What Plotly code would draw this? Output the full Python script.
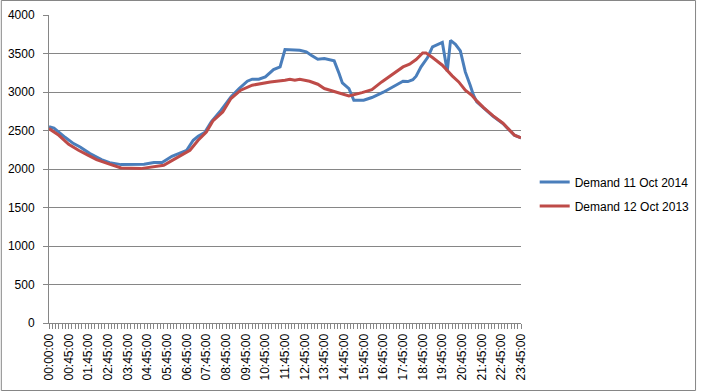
import plotly.graph_objects as go

# Category slots (Excel category axis; label every 6 slots)
tick_slots = [0, 6, 12, 18, 24, 30, 36, 42, 48, 54, 60, 66, 72, 78, 84, 90, 96, 102, 108, 114, 120, 126, 132, 138, 144]
tick_labels = ["00:00:00", "00:45:00", "01:45:00", "02:45:00", "03:45:00", "04:45:00", "05:45:00",
               "06:45:00", "07:45:00", "08:45:00", "09:45:00", "10:45:00", "11:45:00", "12:45:00",
               "13:45:00", "14:45:00", "15:45:00", "16:45:00", "17:45:00", "18:45:00", "19:45:00",
               "20:45:00", "21:45:00", "22:45:00", "23:45:00"]

slots_2014 = [0, 1.5, 5, 7.5, 9.5, 12.5, 16, 18.5, 22, 29, 32, 34.5, 37.5, 42, 44, 45.5, 47.5, 49.5,
              52.5, 55.5, 58, 60.5, 62, 64, 66, 68.5, 70.5, 72, 76.5, 78.5, 80, 82, 84, 87, 88.5, 89.5,
              91.5, 93, 96, 98.5, 102, 104, 106, 108, 109.5, 111, 112, 113.5, 115.5, 117, 120, 121.5,
              122.5, 124, 125.5, 127, 128.5, 129.5, 130.5, 132.5, 135.5, 138.5, 140.5, 142, 144]
demand_2014 = [2550, 2530, 2408, 2330, 2286, 2200, 2122, 2083, 2057, 2061, 2083, 2083, 2165, 2243, 2373,
               2425, 2473, 2611, 2763, 2936, 3045, 3140, 3166, 3166, 3196, 3292, 3326, 3552, 3543, 3521,
               3478, 3426, 3434, 3404, 3240, 3118, 3045, 2893, 2893, 2928, 2997, 3045, 3088, 3140, 3135,
               3160, 3205, 3326, 3448, 3586, 3643, 3270, 3670, 3620, 3534, 3261, 3088, 2958, 2871, 2798,
               2685, 2590, 2503, 2438, 2405]

slots_2013 = [0, 3, 6, 9, 12, 14.5, 18, 22, 28, 31.5, 35, 38, 41, 43, 45.5, 48, 50, 53, 55.5, 58.5, 62,
              67.5, 72, 73.5, 75, 76.5, 79.5, 82, 84, 86.5, 89.5, 91.5, 95.5, 98.5, 101.5, 105, 108, 110,
              112, 114, 115, 117, 120, 123, 125, 127, 129, 130.5, 132.5, 135.5, 138.5, 140.5, 142, 144]
demand_2013 = [2525, 2438, 2321, 2243, 2178, 2122, 2070, 2013, 2005, 2026, 2048, 2122, 2191, 2243, 2373,
               2481, 2624, 2741, 2915, 3023, 3088, 3131, 3153, 3166, 3153, 3166, 3140, 3101, 3045, 3014,
               2971, 2949, 2992, 3031, 3131, 3240, 3326, 3361, 3422, 3508, 3508, 3448, 3348, 3210, 3131,
               3023, 2958, 2884, 2800, 2690, 2595, 2505, 2440, 2405]

FONT = "Liberation Sans"
GRID = "#868686"

fig = go.Figure()
fig.add_trace(go.Scatter(x=slots_2014, y=demand_2014, mode="lines", name="Demand 11 Oct 2014",
                         line=dict(color="#4A7EBB", width=3), legendgroup="a"))
fig.add_trace(go.Scatter(x=slots_2013, y=demand_2013, mode="lines", name="Demand 12 Oct 2013",
                         line=dict(color="#BE4B48", width=3), legendgroup="b"))

fig.update_layout(
    width=707, height=391,
    margin=dict(l=49, r=178, t=15, b=68),
    paper_bgcolor="white", plot_bgcolor="white",
    font=dict(family=FONT, size=12, color="black"),
    showlegend=True,
    legend=dict(x=1.029, y=0.505, xanchor="left", yanchor="top", traceorder="grouped",
                tracegroupgap=5, font=dict(family=FONT, size=12, color="black"),
                bgcolor="rgba(0,0,0,0)"),
    xaxis=dict(range=[0, 144], tickmode="array", tickvals=tick_slots, ticktext=tick_labels,
               tickangle=-90, showgrid=False, zeroline=False, showline=True, linecolor=GRID,
               linewidth=1, ticks="outside", ticklen=5, tickcolor=GRID, automargin=False,
               minor=dict(dtick=1, tick0=0, ticks="outside", ticklen=5, tickcolor=GRID, showgrid=False),
               tickfont=dict(family=FONT, size=12)),
    yaxis=dict(range=[0, 4000], tickmode="linear", tick0=0, dtick=500, showgrid=True,
               gridcolor=GRID, gridwidth=1, zeroline=False, showline=True, linecolor=GRID,
               linewidth=1, ticks="outside", ticklen=5, tickcolor=GRID, ticklabelstandoff=6,
               automargin=False, tickfont=dict(family=FONT, size=12)),
    shapes=[dict(type="rect", xref="paper", yref="paper",
                 x0=(0.5 - 49) / 480, x1=(706.5 - 49) / 480,
                 y0=(323 - 390.5) / 308, y1=(323 - 0.5) / 308,
                 line=dict(color=GRID, width=1), fillcolor="rgba(0,0,0,0)", layer="below")],
)

fig.write_html("out.html", config={"displayModeBar": False},
               post_script="document.body.style.margin='0px';document.body.style.overflow='hidden';")
